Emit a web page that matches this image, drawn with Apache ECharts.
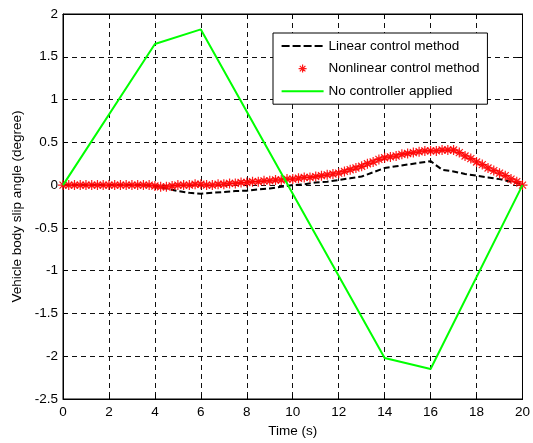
<!DOCTYPE html>
<html>
<head>
<meta charset="utf-8">
<script src="https://cdn.jsdelivr.net/npm/echarts@6/dist/echarts.min.js"></script>
<style>html,body{margin:0;padding:0;background:#fff}#c{width:533px;height:443px}</style>
</head>
<body>
<div id="c"></div>
<script>
// Data
const linearTimes = [0,0.5,1,1.5,2,2.5,3,3.5,4,4.5,5,5.5,6,6.5,7,7.5,8,8.5,9,9.5,10,10.5,11,11.5,12,12.5,13,13.5,14,14.5,15,15.5,16,16.5,17,17.5,18,18.5,19,19.5,20];
const linearValues = [0,0,0,0,0,0,0,0,-0.01,-0.04,-0.07,-0.09,-0.1,-0.09,-0.08,-0.07,-0.065,-0.05,-0.04,-0.02,0.0,0.01,0.03,0.04,0.06,0.08,0.1,0.15,0.2,0.22,0.24,0.26,0.28,0.18,0.16,0.13,0.11,0.09,0.07,0.04,0.01];

const nonlinearTimes = [0,0.25,0.5,0.75,1,1.25,1.5,1.75,2,2.25,2.5,2.75,3,3.25,3.5,3.75,4,4.25,4.5,4.75,5,5.25,5.5,5.75,6,6.25,6.5,6.75,7,7.25,7.5,7.75,8,8.25,8.5,8.75,9,9.25,9.5,9.75,10,10.25,10.5,10.75,11,11.25,11.5,11.75,12,12.25,12.5,12.75,13,13.25,13.5,13.75,14,14.25,14.5,14.75,15,15.25,15.5,15.75,16,16.25,16.5,16.75,17,17.25,17.5,17.75,18,18.25,18.5,18.75,19,19.25,19.5,19.75,20];
const nonlinearValues = [0,0,0,0,0,0,0,0,0,0,0,0,0,0,0,0,-0.01,-0.02,-0.02,-0.01,0,0,0,0.01,0.01,0,0,0.01,0.01,0.02,0.02,0.03,0.03,0.04,0.04,0.05,0.05,0.06,0.06,0.07,0.07,0.08,0.09,0.09,0.1,0.11,0.12,0.13,0.14,0.16,0.18,0.2,0.22,0.25,0.27,0.3,0.32,0.33,0.34,0.36,0.37,0.38,0.39,0.4,0.4,0.4,0.41,0.41,0.41,0.38,0.34,0.31,0.27,0.24,0.2,0.17,0.14,0.11,0.07,0.04,0];

const noCtrlTimes = [0,4,6,14,16,20];
const noCtrlValues = [0,1.65,1.82,-2.02,-2.15,0];

const xTicks = [0,2,4,6,8,10,12,14,16,18,20];
const yTicks = [-2.5,-2,-1.5,-1,-0.5,0,0.5,1,1.5,2];

const seriesNames = ['Linear control method','Nonlinear control method','No controller applied'];

const zip = (a,b) => a.map((t,i)=>[t,b[i]]);
const star = 'path://M0,-5L0,5M-5,0L5,0M-3.5,-3.5L3.5,3.5M-3.5,3.5L3.5,-3.5';
const font = 'Liberation Sans, Arial, sans-serif';
const FS = 13.5;

// legend icons (42 x 14 box, anchored by the two leading moveTo points)
const iconDash = 'path://M0,0M42,14M0,6h8v2h-8zM11,6h8v2h-8zM22,6h8v2h-8zM33,6h8v2h-8z';
const iconSolid = 'path://M0,0M42,14M0,6h42v2h-42z';
const iconStar = 'path://M0,0M42,14M21,3L21,11M17,7L25,7M18.2,4.2L23.8,9.8M18.2,9.8L23.8,4.2';

const chart = echarts.init(document.getElementById('c'), null, {renderer:'canvas'});
const gridLine = {show:true, lineStyle:{color:'#111', type:[5,4], width:1}};
const baseX = {
  type:'value', min:xTicks[0], max:xTicks[xTicks.length-1], interval:2,
  axisLine:{show:true, onZero:false, lineStyle:{color:'#000', width:1}},
  axisTick:{show:true, inside:true, length:5, lineStyle:{color:'#000'}},
};
const baseY = {
  type:'value', min:yTicks[0], max:yTicks[yTicks.length-1], interval:0.5,
  axisLine:{show:true, onZero:false, lineStyle:{color:'#000', width:1}},
  axisTick:{show:true, inside:true, length:5, lineStyle:{color:'#000'}},
};
chart.setOption({
  animation:false,
  backgroundColor:'#fff',
  grid:{left:63, top:14, width:463, height:387, show:true, borderColor:'#000', borderWidth:1, containLabel:false},
  legend:{
    orient:'vertical', left:273, top:33,
    backgroundColor:'#fff', borderColor:'#000', borderWidth:1,
    padding:[6,8,6,8], itemGap:8, itemWidth:42, itemHeight:14,
    textStyle:{fontFamily:font, fontSize:FS, color:'#000', padding:[0,0,0,0]},
    data:[
      {name:seriesNames[0], icon:iconDash, itemStyle:{color:'#000', borderWidth:0}},
      {name:seriesNames[1], icon:iconStar, itemStyle:{color:'#ff0000', borderColor:'#ff0000', borderWidth:1.2}},
      {name:seriesNames[2], icon:iconSolid, itemStyle:{color:'#00ff00', borderWidth:0}}
    ]
  },
  xAxis:[
    Object.assign({}, baseX, {
      position:'bottom',
      name:'Time (s)', nameLocation:'middle', nameGap:25,
      nameTextStyle:{fontFamily:font, fontSize:FS, color:'#000'},
      axisLabel:{fontFamily:font, fontSize:FS, color:'#000', margin:6},
      splitLine:gridLine
    }),
    Object.assign({}, baseX, {position:'top', axisLabel:{show:false}, splitLine:{show:false}})
  ],
  yAxis:[
    Object.assign({}, baseY, {
      position:'left',
      name:'Vehicle body slip angle (degree)', nameLocation:'middle', nameGap:36,
      nameTextStyle:{fontFamily:font, fontSize:FS, color:'#000'},
      axisLabel:{fontFamily:font, fontSize:FS, color:'#000', margin:5},
      splitLine:gridLine
    }),
    Object.assign({}, baseY, {position:'right', axisLabel:{show:false}, splitLine:{show:false}})
  ],
  series:[
    {
      name:seriesNames[0], type:'line', data:zip(linearTimes, linearValues),
      showSymbol:false, symbol:'none', z:3,
      lineStyle:{color:'#000', width:2, type:[6,3]}, itemStyle:{color:'#000'}
    },
    {
      name:seriesNames[1], type:'line', data:zip(nonlinearTimes, nonlinearValues),
      symbol:star, symbolSize:10, showSymbol:true, z:4,
      lineStyle:{width:5, color:'#ff2020', opacity:0.55},
      itemStyle:{color:'#ff0000', borderColor:'#ff0000', borderWidth:1.2, opacity:0.9}
    },
    {
      name:seriesNames[2], type:'line', data:zip(noCtrlTimes, noCtrlValues),
      showSymbol:false, symbol:'none', z:5,
      lineStyle:{color:'#00ff00', width:2}, itemStyle:{color:'#00ff00'}
    }
  ]
});
</script>
</body>
</html>
